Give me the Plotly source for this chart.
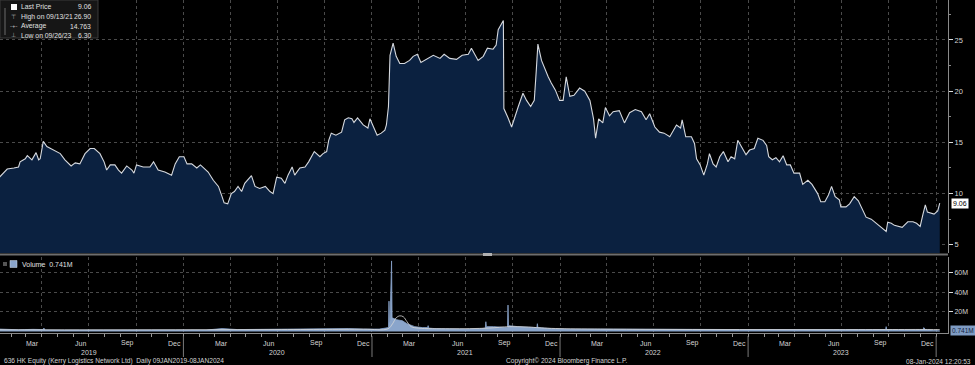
import pandas as pd
import plotly.graph_objects as go

# ---------------- data ----------------
price_dates = [
    "2019-01-09","2019-01-17","2019-01-24","2019-02-06","2019-02-15","2019-02-18","2019-02-28","2019-03-04",
    "2019-03-13","2019-03-21","2019-03-26","2019-03-29","2019-04-04","2019-04-11","2019-04-24","2019-05-07",
    "2019-05-16","2019-05-28","2019-06-05","2019-06-14","2019-06-24","2019-07-04","2019-07-12","2019-07-23",
    "2019-07-31","2019-08-05","2019-08-12","2019-08-21","2019-08-28","2019-09-03","2019-09-13","2019-09-23",
    "2019-09-27","2019-10-02","2019-10-15","2019-10-28","2019-11-04","2019-11-13","2019-11-26","2019-12-09",
    "2019-12-16","2019-12-24","2020-01-02","2020-01-08","2020-01-17","2020-01-27","2020-02-03","2020-02-10",
    "2020-02-18","2020-02-28","2020-03-09","2020-03-16","2020-03-20","2020-03-27","2020-04-03","2020-04-09",
    "2020-04-16","2020-04-23","2020-04-29","2020-05-12","2020-05-19","2020-05-28","2020-06-08","2020-06-17",
    "2020-06-23","2020-06-30","2020-07-09","2020-07-16","2020-07-22","2020-07-30","2020-08-04","2020-08-14",
    "2020-08-24","2020-08-31","2020-09-11","2020-09-22","2020-09-28","2020-10-05","2020-10-09","2020-10-14",
    "2020-10-23","2020-11-03","2020-11-09","2020-11-16","2020-11-23","2020-11-27","2020-12-04","2020-12-15",
    "2020-12-24","2020-12-28","2020-12-31","2021-01-11","2021-01-19","2021-01-26","2021-01-29","2021-02-02",
    "2021-02-05","2021-02-11","2021-02-17","2021-02-24","2021-03-05","2021-03-15","2021-03-22","2021-03-30",
    "2021-04-06","2021-04-16","2021-04-30","2021-05-13","2021-05-21","2021-06-01","2021-06-14","2021-06-25",
    "2021-07-07","2021-07-13","2021-07-20","2021-07-26","2021-08-05","2021-08-13","2021-08-24","2021-08-30",
    "2021-09-03","2021-09-13","2021-09-14","2021-09-17","2021-09-22","2021-09-29","2021-10-05","2021-10-12",
    "2021-10-21","2021-10-28","2021-11-05","2021-11-12","2021-11-16","2021-11-19","2021-11-26","2021-12-02",
    "2021-12-09","2021-12-15","2021-12-23","2021-12-31","2022-01-07","2022-01-13","2022-01-20","2022-01-28",
    "2022-02-08","2022-02-18","2022-02-28","2022-03-07","2022-03-11","2022-03-17","2022-03-25","2022-03-30",
    "2022-04-07","2022-04-14","2022-04-26","2022-05-06","2022-05-16","2022-05-27","2022-06-08","2022-06-17",
    "2022-06-24","2022-07-04","2022-07-13","2022-07-22","2022-08-02","2022-08-15","2022-08-23","2022-08-26",
    "2022-09-02","2022-09-13","2022-09-19","2022-09-23","2022-09-30","2022-10-07","2022-10-14","2022-10-18",
    "2022-10-25","2022-10-31","2022-11-07","2022-11-14","2022-11-23","2022-11-29","2022-12-06","2022-12-12",
    "2022-12-19","2022-12-28","2023-01-04","2023-01-13","2023-01-20","2023-01-30","2023-02-06","2023-02-10",
    "2023-02-17","2023-02-24","2023-03-03","2023-03-10","2023-03-17","2023-03-24","2023-03-31","2023-04-11",
    "2023-04-17","2023-04-27","2023-05-05","2023-05-16","2023-05-22","2023-05-30","2023-06-06","2023-06-12",
    "2023-06-19","2023-06-27","2023-06-30","2023-07-10","2023-07-17","2023-07-26","2023-08-03","2023-08-11",
    "2023-08-18","2023-08-28","2023-09-07","2023-09-15","2023-09-26","2023-09-29","2023-10-06","2023-10-12",
    "2023-10-19","2023-10-27","2023-11-07","2023-11-17","2023-11-24","2023-12-01","2023-12-06","2023-12-11",
    "2023-12-15","2023-12-22","2023-12-28","2024-01-04","2024-01-08",
]
price_values = [
    11.6,12.0,12.4,12.5,12.6,13.1,13.4,13.7,
    13.3,14.0,13.3,13.4,15.1,14.6,14.25,13.9,
    13.3,12.7,13.0,12.9,13.9,14.4,14.4,13.9,
    13.1,12.3,12.8,12.8,12.3,12.0,12.7,12.3,
    12.0,12.8,12.6,12.6,13.1,12.3,12.1,11.8,
    12.9,13.6,13.6,12.9,12.9,12.5,12.8,12.5,
    12.1,11.3,10.7,9.7,9.1,9.0,10.0,10.2,
    10.7,10.2,11.0,11.75,10.7,10.5,10.7,10.2,
    10.0,11.6,11.5,11.0,11.8,12.6,11.8,12.5,
    12.6,13.1,14.1,13.6,13.9,14.1,15.2,15.9,
    15.7,16.0,17.2,17.4,17.3,16.95,17.4,16.7,
    16.4,17.3,16.95,15.7,15.9,16.2,16.7,18.5,
    23.5,24.7,23.4,22.7,22.7,23.0,23.4,23.6,
    22.8,23.1,23.5,23.2,23.6,23.2,23.1,23.5,
    23.6,24.2,23.6,23.0,23.4,24.2,24.1,24.5,
    26.0,26.9,18.3,18.0,17.4,16.5,17.5,18.5,
    19.8,19.1,18.5,19.1,22.1,24.6,23.0,22.2,
    21.4,20.8,20.1,19.1,19.1,21.4,19.5,19.6,
    20.3,20.0,19.1,17.3,15.4,17.3,16.9,18.4,
    17.6,18.0,18.1,16.9,17.9,18.2,18.0,17.2,
    17.8,16.5,16.0,15.9,15.55,16.7,16.4,17.2,
    15.55,15.55,14.9,13.4,12.8,11.8,12.9,13.9,
    12.9,12.6,13.6,14.1,13.1,13.6,13.4,15.2,
    14.6,13.8,14.25,14.4,15.4,15.2,14.7,13.6,
    13.3,13.5,13.1,13.7,12.8,12.8,12.0,12.0,
    10.9,11.3,10.9,10.0,9.2,9.2,9.85,10.7,
    9.7,9.4,8.7,8.7,9.0,9.7,9.3,8.4,
    7.7,7.5,7.1,6.8,6.3,7.2,7.1,6.9,
    6.8,6.7,7.25,7.25,7.1,6.8,7.9,8.9,
    8.2,8.1,8.0,8.3,9.06,
]

volume_dates = [
    "2019-01-09","2019-02-15","2019-03-15","2019-04-04","2019-04-05","2019-04-08","2019-05-10","2019-06-14",
    "2019-07-15","2019-08-15","2019-09-16","2019-10-15","2019-11-15","2019-12-16","2020-01-15","2020-02-14",
    "2020-03-16","2020-04-15","2020-05-15","2020-06-15","2020-07-15","2020-08-14","2020-09-15","2020-10-15",
    "2020-11-16","2020-12-15","2021-01-15","2021-02-02","2021-02-03","2021-02-04","2021-02-05","2021-02-08",
    "2021-02-09","2021-02-18","2021-03-01","2021-03-10","2021-03-25","2021-04-09","2021-04-19","2021-04-20",
    "2021-04-21","2021-05-03","2021-06-01","2021-07-02","2021-08-02","2021-08-09","2021-08-10","2021-08-11",
    "2021-08-25","2021-09-10","2021-09-21","2021-09-22","2021-09-23","2021-10-11","2021-11-10","2021-11-17",
    "2021-11-18","2021-11-19","2021-12-15","2022-01-14","2022-03-15","2022-06-15","2022-09-15","2022-12-15",
    "2023-03-15","2023-06-15","2023-09-25","2023-09-26","2023-09-27","2023-11-15","2023-12-07","2023-12-08",
    "2023-12-11","2024-01-08",
]
volume_values = [  # millions of shares
    2.5,1.8,2.2,2.0,3.5,1.6,1.5,1.6,
    1.8,1.5,1.6,1.4,1.5,2.0,1.6,1.5,
    3.0,2.0,2.2,1.8,2.0,2.2,2.5,2.6,
    3.0,2.5,2.5,4.0,31.0,9.0,10.0,72.0,
    14.0,12.0,11.0,8.0,5.0,4.0,4.0,6.0,
    3.5,3.0,2.5,2.5,3.0,3.5,10.0,5.0,
    5.0,4.5,4.0,27.0,6.0,5.0,4.0,4.0,
    8.0,4.0,3.0,2.5,2.5,2.0,2.2,2.0,
    2.0,1.8,2.0,5.0,2.0,1.8,2.0,4.0,
    2.0,0.741,
]

ma_dates = [
    "2019-01-09","2019-06-14","2019-12-16","2020-06-15","2020-12-15","2021-02-01","2021-02-10",
    "2021-02-17","2021-02-24","2021-03-03","2021-03-10","2021-03-18","2021-04-01","2021-06-01",
    "2021-08-15","2021-09-25","2021-11-01","2021-12-15","2022-06-15","2022-12-15","2023-06-15",
    "2023-12-15","2024-01-08",
]
ma_values = [
    1.8,1.7,1.8,2.0,2.4,2.8,8.0,
    14.0,16.0,15.0,10.0,5.0,3.5,2.8,
    3.5,5.0,4.5,3.2,2.2,2.0,1.9,
    2.1,2.0,
]

month_label_names = ["Mar", "Jun", "Sep", "Dec"]
year_labels = ["2019", "2020", "2021", "2022", "2023"]
price_ticks = [5, 10, 15, 20, 25]
volume_ticks = [20, 40, 60]

legend_rows = [("Last Price", "9.06"), ("High on 09/13/21", "26.90"),
               ("Average", "14.763"), ("Low on 09/26/23", "6.30")]

# ---------------- layout helpers ----------------
W, H = 975, 365
ML, MR, MT, MB = 0, 27, 0, 32
PW, PH = W - ML - MR, H - MT - MB
def px(x):
    return x / PW
def py(y):
    return 1 - y / PH

FONT = "Liberation Sans Narrow, Arial Narrow, Liberation Sans, sans-serif"
TXT = "#d4d4d4"
GRID = "#4a4a4a"

x_range = ["2019-01-10", "2024-01-24"]
quarter_starts = pd.date_range("2019-04-01", "2024-01-01", freq="QS")

fig = go.Figure()

fig.add_trace(go.Scatter(
    x=price_dates, y=price_values, mode="lines", fill="tozeroy",
    fillcolor="#0b2140", line=dict(color="#d6d9de", width=1.1),
    xaxis="x", yaxis="y", hoverinfo="skip", showlegend=False))

fig.add_trace(go.Scatter(
    x=volume_dates, y=volume_values, mode="lines", fill="tozeroy",
    fillcolor="#8aa5cb", line=dict(color="#8aa5cb", width=0.8),
    xaxis="x2", yaxis="y2", hoverinfo="skip", showlegend=False))

fig.add_trace(go.Scatter(
    x=ma_dates, y=ma_values, mode="lines", line=dict(color="#d8d8d8", width=0.8, shape="spline"),
    xaxis="x2", yaxis="y2", hoverinfo="skip", showlegend=False))

price_dom = [py(253), 1]
vol_dom = [0, py(257)]

common_x = dict(range=x_range, type="date", showticklabels=False,
                tickmode="array", tickvals=list(quarter_starts),
                showgrid=True, gridcolor=GRID, griddash="dot", gridwidth=1,
                zeroline=False)

fig.update_layout(
    width=W, height=H, margin=dict(l=ML, r=MR, t=MT, b=MB),
    paper_bgcolor="#000000", plot_bgcolor="#000000",
    font=dict(family=FONT, size=7, color=TXT),
    xaxis=dict(**common_x, anchor="y", domain=[0, 1], ticks="", showline=False),
    xaxis2=dict(**common_x, anchor="y2", domain=[0, 1], matches="x",
                ticks="outside", ticklen=3, tickcolor="#9a9a9a",
                minor=dict(dtick="M1", tick0="2019-01-01", ticks="outside",
                           ticklen=3, tickcolor="#9a9a9a", showgrid=False),
                showline=True, linecolor="#8a8a8a", linewidth=1),
    yaxis=dict(domain=price_dom, range=[4.2, 28.9], side="right", anchor="x",
               tickmode="array", tickvals=price_ticks, ticks="outside", ticklen=4,
               tickcolor="#dcdcdc", tickfont=dict(size=7.5, color=TXT),
               minor=dict(tickvals=[7.5, 12.5, 17.5, 22.5, 27.5], ticks="outside",
                          ticklen=2, tickcolor="#8a8a8a", showgrid=False),
               showgrid=True, gridcolor=GRID, griddash="dot", zeroline=False,
               showline=True, linecolor="#8a8a8a", linewidth=1),
    yaxis2=dict(domain=vol_dom, range=[-1.5, 76], side="right", anchor="x2",
                tickmode="array", tickvals=volume_ticks,
                ticktext=[f"{v}M" for v in volume_ticks],
                ticks="outside", ticklen=4, tickcolor="#dcdcdc",
                tickfont=dict(size=7, color=TXT),
                showgrid=True, gridcolor=GRID, griddash="dot", zeroline=False,
                showline=True, linecolor="#8a8a8a", linewidth=1),
)

shapes = []
ann = []

# panel separator with handle
shapes.append(dict(type="line", xref="paper", yref="paper", x0=0, x1=1,
                   y0=py(254.5), y1=py(254.5), line=dict(color="#6e6e6e", width=2)))
shapes.append(dict(type="rect", xref="paper", yref="paper", x0=px(483), x1=px(492),
                   y0=py(256), y1=py(253), fillcolor="#b0b0b0", line=dict(width=0)))

# month labels, year labels and year separators
for yr in range(2019, 2024):
    for mi, m in zip([3, 6, 9, 12], month_label_names):
        ann.append(dict(x=f"{yr}-{mi:02d}-15", xref="x2", y=0, yref="paper", yshift=-10,
                        text=m, showarrow=False, xanchor="center", yanchor="middle",
                        font=dict(size=7, color=TXT)))
for yl in year_labels:
    ann.append(dict(x=f"{yl}-07-01", xref="x2", y=0, yref="paper", yshift=-19, text=yl,
                    showarrow=False, xanchor="center", yanchor="middle",
                    font=dict(size=7, color=TXT)))
for yr in range(2020, 2025):
    shapes.append(dict(type="line", xref="x2", yref="paper", x0=f"{yr}-01-01", x1=f"{yr}-01-01",
                       y0=py(336), y1=py(357), line=dict(color="#7a7a7a", width=1)))

# footer
foot_font = dict(size=6.6, color=TXT)
ann.append(dict(x=px(2), xref="paper", y=0, yref="paper", yshift=-28, xanchor="left",
                yanchor="middle", showarrow=False, font=foot_font,
                text="636 HK Equity (Kerry Logistics Network Ltd)  Daily 09JAN2019-08JAN2024"))
ann.append(dict(x=px(504), xref="paper", y=0, yref="paper", yshift=-28, xanchor="left",
                yanchor="middle", showarrow=False, font=foot_font,
                text="Copyright© 2024 Bloomberg Finance L.P."))
ann.append(dict(x=px(973), xref="paper", y=0, yref="paper", yshift=-28, xanchor="right",
                yanchor="middle", showarrow=False, font=foot_font,
                text="08-Jan-2024 12:20:53"))

# top-left legend box
shapes.append(dict(type="rect", xref="paper", yref="paper", x0=0, x1=px(98),
                   y0=py(38), y1=py(0), fillcolor="#161616",
                   line=dict(color="#3a3a3a", width=1)))
shapes.append(dict(type="rect", xref="paper", yref="paper", x0=px(11), x1=px(17),
                   y0=py(10), y1=py(4), fillcolor="#ffffff", line=dict(width=0)))
shapes.append(dict(type="line", xref="paper", yref="paper", x0=px(5), x1=px(5),
                   y0=py(35), y1=py(8), line=dict(color="#6a6a6a", width=1)))
icons = ["", "\u22a4", "-+-", "\u22a5"]
for i, ((lab, val), ic) in enumerate(zip(legend_rows, icons)):
    yy = 7 + i * 9.5
    ann.append(dict(x=px(19), xref="paper", y=py(yy), yref="paper", text=lab,
                    showarrow=False, xanchor="left", yanchor="middle",
                    font=dict(size=6.8, color="#e0e0e0")))
    ann.append(dict(x=px(93), xref="paper", y=py(yy), yref="paper", text=val,
                    showarrow=False, xanchor="right", yanchor="middle",
                    font=dict(size=6.8, color="#e0e0e0")))
    if ic:
        ann.append(dict(x=px(13.5), xref="paper", y=py(yy), yref="paper", text=ic,
                        showarrow=False, xanchor="center", yanchor="middle",
                        font=dict(size=6, color="#bdbdbd")))

# volume legend
shapes.append(dict(type="rect", xref="paper", yref="paper", x0=px(3), x1=px(7),
                   y0=py(266), y1=py(262), fillcolor="#555555", line=dict(width=0)))
shapes.append(dict(type="rect", xref="paper", yref="paper", x0=px(10), x1=px(17),
                   y0=py(267.5), y1=py(260.5), fillcolor="#8aa5cb", line=dict(color="#cfd8e6", width=0.5)))
ann.append(dict(x=px(20), xref="paper", y=py(264), yref="paper", text="Volume  0.741M",
                showarrow=False, xanchor="left", yanchor="middle",
                font=dict(size=7, color="#e0e0e0")))

# last value labels on the right axis
ann.append(dict(x=px(951), xref="paper", y=price_values[-1], yref="y", text=f"{price_values[-1]:.2f}",
                showarrow=False, xanchor="left", yanchor="middle", bgcolor="#ffffff",
                borderpad=1, font=dict(size=7, color="#000000")))
ann.append(dict(x=px(950), xref="paper", y=volume_values[-1], yref="y2", text=f"{volume_values[-1]:.3f}M",
                showarrow=False, xanchor="left", yanchor="middle", bgcolor="#7f9cc4",
                borderpad=1, font=dict(size=6.5, color="#10233f")))

fig.update_layout(shapes=shapes, annotations=ann)
fig.write_html("out.html", config={"displayModeBar": False},
               post_script="document.body.style.margin='0';document.body.style.overflow='hidden';")
